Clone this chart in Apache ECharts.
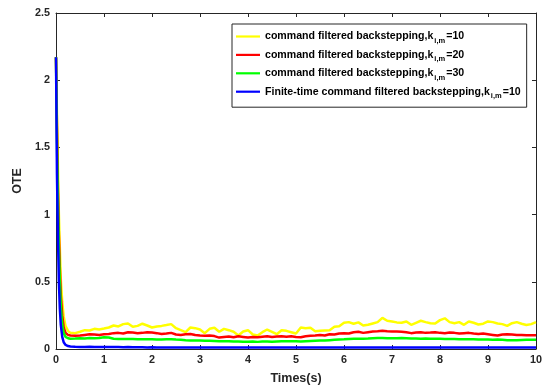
<!DOCTYPE html>
<html>
<head>
<meta charset="utf-8">
<script src="https://cdn.jsdelivr.net/npm/echarts@6/dist/echarts.min.js"></script>
<style>
html,body{margin:0;padding:0;background:#fff;}
#chart{width:545px;height:390px;}
</style>
</head>
<body>
<div id="chart"></div>
<script>
// ---------------- DATA ----------------
var TIME = [0,0.02,0.04,0.06,0.08,0.1,0.13,0.16,0.2,0.25,0.3,
0.4,0.5,0.6,0.7,0.8,0.9,1.0,1.1,1.2,1.3,1.4,1.5,1.6,1.7,1.8,1.9,2.0,2.1,2.2,2.3,2.4,2.5,2.6,2.7,2.8,2.9,
3.0,3.1,3.2,3.3,3.4,3.5,3.6,3.7,3.8,3.9,4.0,4.1,4.2,4.3,4.4,4.5,4.6,4.7,4.8,4.9,
5.0,5.1,5.2,5.3,5.4,5.5,5.6,5.7,5.8,5.9,6.0,6.1,6.2,6.3,6.4,6.5,6.6,6.7,6.8,6.9,
7.0,7.1,7.2,7.3,7.4,7.5,7.6,7.7,7.8,7.9,8.0,8.1,8.2,8.3,8.4,8.5,8.6,8.7,8.8,8.9,
9.0,9.1,9.2,9.3,9.4,9.5,9.6,9.7,9.8,9.9,10.0];

var YELLOW_K10 = [2.17,1.75,1.35,1.0,0.75,0.52,0.35,0.24,0.17,0.135,0.12,
0.118,0.128,0.14,0.138,0.15,0.145,0.152,0.16,0.175,0.168,0.185,0.19,0.165,0.172,0.188,0.175,0.16,0.168,0.172,0.178,0.185,0.155,0.14,0.125,0.16,0.155,
0.145,0.118,0.15,0.158,0.128,0.15,0.14,0.128,0.1,0.13,0.14,0.108,0.1,0.125,0.145,0.128,0.11,0.14,0.135,0.125,
0.115,0.16,0.155,0.158,0.132,0.135,0.138,0.14,0.165,0.17,0.195,0.2,0.188,0.198,0.175,0.18,0.19,0.2,0.232,0.21,
0.205,0.198,0.195,0.205,0.18,0.195,0.21,0.2,0.192,0.19,0.215,0.228,0.2,0.192,0.2,0.18,0.205,0.195,0.182,0.188,
0.205,0.2,0.19,0.185,0.172,0.192,0.2,0.188,0.178,0.185,0.2];

var RED_K20 = [2.17,1.65,1.2,0.85,0.6,0.4,0.25,0.16,0.12,0.105,0.1,
0.098,0.1,0.105,0.11,0.108,0.105,0.11,0.112,0.118,0.12,0.115,0.125,0.122,0.118,0.12,0.125,0.122,0.118,0.112,0.115,0.12,0.108,0.105,0.11,0.112,0.104,
0.1,0.098,0.1,0.096,0.085,0.09,0.093,0.088,0.095,0.09,0.085,0.09,0.088,0.092,0.095,0.09,0.093,0.095,0.092,0.095,
0.09,0.088,0.095,0.098,0.1,0.105,0.1,0.11,0.108,0.115,0.118,0.115,0.125,0.128,0.12,0.125,0.13,0.132,0.135,0.132,
0.13,0.13,0.128,0.125,0.118,0.122,0.125,0.12,0.122,0.125,0.12,0.118,0.122,0.12,0.115,0.118,0.12,0.115,0.112,0.115,
0.11,0.105,0.1,0.108,0.11,0.108,0.105,0.105,0.103,0.102,0.102];

var GREEN_K30 = [2.17,1.55,1.1,0.75,0.5,0.32,0.18,0.12,0.09,0.08,0.077,
0.078,0.08,0.078,0.082,0.08,0.082,0.088,0.085,0.076,0.074,0.075,0.074,0.074,0.073,0.073,0.072,0.072,0.07,0.07,0.072,0.073,0.07,0.068,0.065,0.064,0.064,
0.063,0.062,0.062,0.06,0.058,0.057,0.058,0.056,0.055,0.054,0.054,0.055,0.053,0.055,0.056,0.054,0.056,0.058,0.057,0.058,
0.058,0.056,0.058,0.06,0.062,0.063,0.064,0.066,0.068,0.07,0.072,0.075,0.076,0.076,0.077,0.078,0.08,0.082,0.082,0.08,
0.08,0.08,0.081,0.08,0.078,0.078,0.077,0.078,0.076,0.076,0.077,0.075,0.074,0.074,0.073,0.072,0.073,0.072,0.07,0.07,
0.071,0.069,0.07,0.068,0.066,0.065,0.066,0.067,0.068,0.069,0.069];

var BLUE_FT_K10 = [2.17,1.3,0.85,0.5,0.3,0.18,0.09,0.05,0.03,0.022,0.018,
0.016,0.015,0.015,0.016,0.015,0.014,0.015,0.015,0.014,0.014,0.013,0.014,0.013,0.013,0.013,0.012,0.013,0.012,0.012,0.012,0.012,0.012,0.011,0.011,0.011,0.011,
0.011,0.011,0.011,0.011,0.011,0.011,0.011,0.011,0.011,0.011,0.011,0.011,0.011,0.011,0.011,0.011,0.011,0.011,0.011,0.011,
0.011,0.011,0.011,0.011,0.011,0.011,0.011,0.011,0.011,0.011,0.012,0.012,0.012,0.012,0.012,0.012,0.012,0.012,0.012,0.012,
0.012,0.012,0.012,0.012,0.012,0.012,0.012,0.012,0.012,0.012,0.012,0.012,0.012,0.012,0.012,0.012,0.012,0.012,0.012,0.012,
0.012,0.012,0.012,0.012,0.012,0.012,0.012,0.012,0.012,0.012,0.012];

var X_TICKS = [0,1,2,3,4,5,6,7,8,9,10];
var Y_TICKS = [0,0.5,1,1.5,2,2.5];
var SERIES_NAMES = ['cfb10','cfb20','cfb30','ftcfb10'];
var LEGEND_PREFIX = ['command filtered backstepping,k','command filtered backstepping,k','command filtered backstepping,k','Finite-time command filtered backstepping,k'];
var LEGEND_SUFFIX = ['=10','=20','=30','=10'];
var SUBSCRIPT = 'i,m';
var X_TITLE = 'Times(s)';
var Y_TITLE = 'OTE';

// ---------------- CHART ----------------
function pairs(xs, ys){ var out=[]; for(var i=0;i<xs.length;i++){ out.push([xs[i], ys[i]]); } return out; }

var AXC = '#262626';
var FONT = 'Liberation Sans, Arial, Helvetica, sans-serif';
var COLORS = ['#ffff00','#ff0000','#00ff00','#0000ff'];
var VALUES = [YELLOW_K10, RED_K20, GREEN_K30, BLUE_FT_K10];

var chart = echarts.init(document.getElementById('chart'), null, {renderer:'canvas'});

var baseX = {
  type:'value', min:X_TICKS[0], max:X_TICKS[X_TICKS.length-1], interval:X_TICKS[1]-X_TICKS[0],
  axisLine:{show:true, onZero:false, lineStyle:{color:AXC, width:1}},
  axisTick:{show:true, inside:true, length:4, lineStyle:{color:AXC}},
  splitLine:{show:false}
};
var baseY = {
  type:'value', min:Y_TICKS[0], max:Y_TICKS[Y_TICKS.length-1], interval:Y_TICKS[1]-Y_TICKS[0],
  axisLine:{show:true, onZero:false, lineStyle:{color:AXC, width:1}},
  axisTick:{show:true, inside:true, length:4, lineStyle:{color:AXC}},
  splitLine:{show:false}
};

var series = SERIES_NAMES.map(function(n, i){
  return {
    name:n, type:'line', xAxisIndex:0, yAxisIndex:0,
    data:pairs(TIME, VALUES[i]),
    showSymbol:false, symbol:'none', smooth:false,
    lineStyle:{color:COLORS[i], width:2.5},
    itemStyle:{color:COLORS[i]},
    animation:false, z:2+i
  };
});

var option = {
  animation:false,
  backgroundColor:'#ffffff',
  textStyle:{fontFamily:FONT},
  grid:{left:56, right:9, top:13, bottom:38, containLabel:false},
  xAxis:[
    Object.assign({}, baseX, {
      position:'bottom',
      axisLabel:{show:true, color:AXC, fontSize:10.8, fontWeight:'bold', fontFamily:FONT, margin:6},
      name:X_TITLE, nameLocation:'middle', nameGap:23,
      nameTextStyle:{color:AXC, fontSize:12.5, fontWeight:'bold', fontFamily:FONT}
    }),
    Object.assign({}, baseX, {position:'top', axisLabel:{show:false}})
  ],
  yAxis:[
    Object.assign({}, baseY, {
      position:'left',
      axisLabel:{show:true, color:AXC, fontSize:10.8, fontWeight:'bold', fontFamily:FONT, margin:6,
        formatter:function(v){ return String(v); }},
      name:Y_TITLE, nameLocation:'middle', nameGap:28, nameRotate:90,
      nameTextStyle:{color:AXC, fontSize:12.5, fontWeight:'bold', fontFamily:FONT}
    }),
    Object.assign({}, baseY, {position:'right', axisLabel:{show:false}})
  ],
  legend:{
    show:true, orient:'vertical', left:232, top:24,
    data:SERIES_NAMES,
    backgroundColor:'#ffffff', borderColor:AXC, borderWidth:1, borderRadius:0,
    padding:[4, 6, 7, 4], itemGap:1.4, itemWidth:24, itemHeight:14,
    icon:'path://M0,6 L24,6 L24,8.2 L0,8.2 Z',
    formatter:function(name){
      var i = SERIES_NAMES.indexOf(name);
      return '{a|' + LEGEND_PREFIX[i] + '}{s|' + SUBSCRIPT + '}{a|' + LEGEND_SUFFIX[i] + '}';
    },
    textStyle:{
      color:'#000', fontFamily:FONT, fontWeight:'bold', fontSize:10.6, padding:[0,0,0,0],
      rich:{
        a:{fontSize:10.6, fontWeight:'bold', fontFamily:FONT, color:'#000', lineHeight:14, verticalAlign:'middle'},
        s:{fontSize:7.5, fontWeight:'bold', fontFamily:FONT, color:'#000', lineHeight:14, verticalAlign:'middle', padding:[9,1,0,1]}
      }
    }
  },
  series:series
};
chart.setOption(option);
</script>
</body>
</html>
